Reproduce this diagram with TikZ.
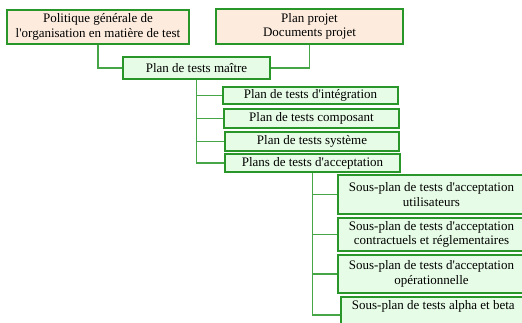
\documentclass[tikz,border=0pt]{standalone}
\usepackage{fontspec}
\setmainfont{Liberation Serif}[Ligatures=TeXOff]
\usepackage{xcolor}
\usepackage{tikz}
\definecolor{vertbord}{RGB}{40,150,40}
\definecolor{vertlien}{RGB}{70,165,70}
\definecolor{vertfond}{RGB}{230,252,230}
\definecolor{peche}{RGB}{253,236,222}

\begin{document}
\begin{tikzpicture}[x=1pt, y=-1pt]

    % --- 1. Cadre de la figure ---
    \useasboundingbox (0,0) rectangle (522,322);
    \clip (0,0) rectangle (522,322);

    \tikzset{plan/.style={draw=vertbord, fill=vertfond, line width=1.6pt, align=center, inner sep=0pt, font=\fontsize{13}{14.5}\selectfont}}
    \tikzset{document/.style={plan, fill=peche}}
    \tikzset{lien/.style={draw=vertlien, line width=1.6pt}}

    % --- 2. Documents de base (haut) ---
    \node[document, minimum width=182, minimum height=34] (politique) at (98,27) {Politique générale de\\l'organisation en matière de test};
    \node[document, minimum width=187, minimum height=35] (projet) at (309.5,26.5) {Plan projet\\Documents projet};

    % --- 3. Plan maître et plans de niveau ---
    \node[plan, minimum width=147, minimum height=22] (maitre) at (196.5,68) {Plan de tests maître};
    \node[plan, minimum width=175, minimum height=17] (integration) at (310.5,95.5) {Plan de tests d'intégration};
    \node[plan, minimum width=175, minimum height=19] (composant) at (311.5,118.5) {Plan de tests composant};
    \node[plan, minimum width=174, minimum height=19] (systeme) at (312,141.5) {Plan de tests système};
    \node[plan, minimum width=175, minimum height=18] (acceptation) at (312.5,163) {Plans de tests d'acceptation};

    % --- 4. Sous-plans d'acceptation (coupés à droite) ---
    \node[plan, minimum width=187, minimum height=39] (utilisateurs) at (431.5,194.5) {Sous-plan de tests d'acceptation\\utilisateurs};
    \node[plan, minimum width=187, minimum height=33] (contractuels) at (431.5,234.5) {Sous-plan de tests d'acceptation\\contractuels et réglementaires};
    \node[plan, minimum width=187, minimum height=38] (operationnelle) at (431.5,274) {Sous-plan de tests d'acceptation\\opérationnelle};
    \node[plan, minimum width=185, minimum height=36, anchor=north west] (alphabeta) at (340,296) {Sous-plan de tests alpha et beta\\\strut};

    % --- 5. Liaisons ---
    \draw[lien] (politique.south) |- (maitre.west);
    \draw[lien] (projet.south) |- (maitre.east);
    \draw[lien] (maitre.south) |- (integration.west);
    \draw[lien] (maitre.south) |- (composant.west);
    \draw[lien] (maitre.south) |- (systeme.west);
    \draw[lien] (maitre.south) |- (acceptation.west);
    \draw[lien] (acceptation.south) |- (utilisateurs.west);
    \draw[lien] (acceptation.south) |- (contractuels.west);
    \draw[lien] (acceptation.south) |- (operationnelle.west);
    \draw[lien] (acceptation.south) |- (alphabeta.west);

\end{tikzpicture}
\end{document}
